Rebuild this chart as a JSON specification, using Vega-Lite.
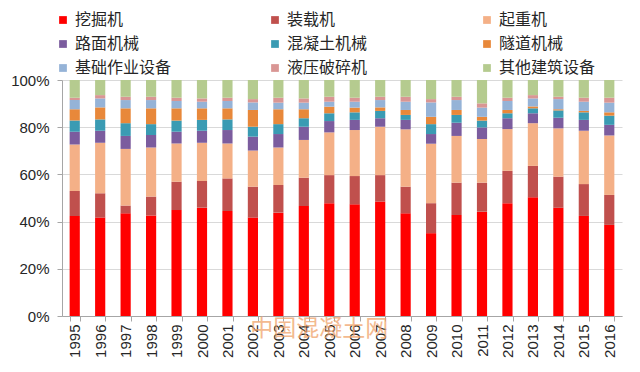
{
  "$schema": "https://vega.github.io/schema/vega-lite/v6.json",
  "width": 560,
  "height": 236,
  "autosize": {"type": "none"},
  "padding": {"left": 62, "top": 80, "right": 18, "bottom": 56},
  "background": "white",
  "config": {"view": {"stroke": null}, "font": "Liberation Sans"},
  "datasets": {
    "order": [
      {"type": "挖掘机", "k": 0}, {"type": "装载机", "k": 1}, {"type": "起重机", "k": 2},
      {"type": "路面机械", "k": 3}, {"type": "混凝土机械", "k": 4}, {"type": "隧道机械", "k": 5},
      {"type": "基础作业设备", "k": 6}, {"type": "液压破碎机", "k": 7}, {"type": "其他建筑设备", "k": 8}
    ]
  },
  "layer": [
    {
      "data": {"values": [
        {"year": "1995", "挖掘机": 42.4, "装载机": 10.6, "起重机": 19.7, "路面机械": 5.4, "混凝土机械": 4.7, "隧道机械": 4.8, "基础作业设备": 3.9, "液压破碎机": 1.0, "其他建筑设备": 7.5},
        {"year": "1996", "挖掘机": 41.7, "装载机": 10.3, "起重机": 21.4, "路面机械": 5.1, "混凝土机械": 4.8, "隧道机械": 5.1, "基础作业设备": 3.8, "液压破碎机": 1.4, "其他建筑设备": 6.4},
        {"year": "1997", "挖掘机": 43.5, "装载机": 3.3, "起重机": 24.0, "路面机械": 5.5, "混凝土机械": 5.4, "隧道机械": 6.3, "基础作业设备": 3.5, "液压破碎机": 1.4, "其他建筑设备": 7.1},
        {"year": "1998", "挖掘机": 42.6, "装载机": 8.0, "起重机": 20.8, "路面机械": 5.3, "混凝土机械": 4.6, "隧道机械": 6.7, "基础作业设备": 3.5, "液压破碎机": 1.4, "其他建筑设备": 7.1},
        {"year": "1999", "挖掘机": 44.9, "装载机": 12.0, "起重机": 16.2, "路面机械": 5.0, "混凝土机械": 4.7, "隧道机械": 5.2, "基础作业设备": 3.1, "液压破碎机": 1.4, "其他建筑设备": 7.5},
        {"year": "2000", "挖掘机": 45.9, "装载机": 11.3, "起重机": 16.2, "路面机械": 5.1, "混凝土机械": 4.6, "隧道机械": 4.9, "基础作业设备": 2.8, "液压破碎机": 1.4, "其他建筑设备": 7.8},
        {"year": "2001", "挖掘机": 44.5, "装载机": 13.8, "起重机": 14.8, "路面机械": 5.7, "混凝土机械": 4.5, "隧道机械": 4.7, "基础作业设备": 3.1, "液压破碎机": 1.4, "其他建筑设备": 7.5},
        {"year": "2002", "挖掘机": 41.7, "装载机": 13.1, "起重机": 15.3, "路面机械": 5.9, "混凝土机械": 4.2, "隧道机械": 7.1, "基础作业设备": 3.2, "液压破碎机": 1.4, "其他建筑设备": 8.1},
        {"year": "2003", "挖掘机": 43.8, "装载机": 11.7, "起重机": 15.9, "路面机械": 5.7, "混凝土机械": 4.2, "隧道机械": 6.3, "基础作业设备": 2.8, "液压破碎机": 2.1, "其他建筑设备": 7.5},
        {"year": "2004", "挖掘机": 46.6, "装载机": 12.0, "起重机": 16.0, "路面机械": 5.6, "混凝土机械": 3.6, "隧道机械": 3.8, "基础作业设备": 2.8, "液压破碎机": 1.8, "其他建筑设备": 7.8},
        {"year": "2005", "挖掘机": 47.8, "装载机": 11.9, "起重机": 18.1, "路面机械": 4.8, "混凝土机械": 3.3, "隧道机械": 2.8, "基础作业设备": 2.1, "液压破碎机": 2.1, "其他建筑设备": 7.1},
        {"year": "2006", "挖掘机": 47.3, "装载机": 12.0, "起重机": 19.5, "路面机械": 4.3, "混凝土机械": 3.2, "隧道机械": 2.0, "基础作业设备": 2.5, "液压破碎机": 1.7, "其他建筑设备": 7.5},
        {"year": "2007", "挖掘机": 48.5, "装载机": 11.2, "起重机": 20.5, "路面机械": 3.6, "混凝土机械": 3.1, "隧道机械": 1.5, "基础作业设备": 3.1, "液压破碎机": 1.4, "其他建筑设备": 7.1},
        {"year": "2008", "挖掘机": 43.5, "装载机": 11.3, "起重机": 24.3, "路面机械": 4.0, "混凝土机械": 2.1, "隧道机械": 2.1, "基础作业设备": 3.5, "液压破碎机": 2.1, "其他建筑设备": 7.1},
        {"year": "2009", "挖掘机": 35.1, "装载机": 12.7, "起重机": 25.2, "路面机械": 4.1, "混凝土机械": 4.2, "隧道机械": 3.1, "基础作业设备": 6.1, "液压破碎机": 1.4, "其他建筑设备": 8.1},
        {"year": "2010", "挖掘机": 42.8, "装载机": 13.7, "起重机": 19.8, "路面机械": 5.6, "混凝土机械": 3.3, "隧道机械": 2.1, "基础作业设备": 4.2, "液压破碎机": 1.4, "其他建筑设备": 7.1},
        {"year": "2011", "挖掘机": 44.2, "装载机": 12.3, "起重机": 18.5, "路面机械": 4.9, "混凝土机械": 2.9, "隧道机械": 1.6, "基础作业设备": 3.9, "液压破碎机": 1.8, "其他建筑设备": 9.9},
        {"year": "2012", "挖掘机": 47.8, "装载机": 13.7, "起重机": 17.7, "路面机械": 4.6, "混凝土机械": 2.1, "隧道机械": 1.4, "基础作业设备": 3.8, "液压破碎机": 1.4, "其他建筑设备": 7.5},
        {"year": "2013", "挖掘机": 50.3, "装载机": 13.3, "起重机": 18.1, "路面机械": 4.2, "混凝土机械": 2.1, "隧道机械": 0.8, "基础作业设备": 3.4, "液压破碎机": 1.4, "其他建筑设备": 6.4},
        {"year": "2014", "挖掘机": 45.9, "装载机": 13.2, "起重机": 20.5, "路面机械": 4.5, "混凝土机械": 3.1, "隧道机械": 0.5, "基础作业设备": 4.3, "液压破碎机": 1.0, "其他建筑设备": 7.1},
        {"year": "2015", "挖掘机": 42.4, "装载机": 13.5, "起重机": 22.6, "路面机械": 4.6, "混凝土机械": 3.2, "隧道机械": 0.6, "基础作业设备": 3.9, "液压破碎机": 1.7, "其他建筑设备": 7.5},
        {"year": "2016", "挖掘机": 38.6, "装载机": 12.7, "起重机": 25.2, "路面机械": 4.5, "混凝土机械": 3.9, "隧道机械": 1.4, "基础作业设备": 4.1, "液压破碎机": 2.1, "其他建筑设备": 7.5}
      ]},
      "transform": [
        {"fold": ["挖掘机", "装载机", "起重机", "路面机械", "混凝土机械", "隧道机械", "基础作业设备", "液压破碎机", "其他建筑设备"], "as": ["type", "value"]},
        {"lookup": "type", "from": {"data": {"name": "order"}, "key": "type", "fields": ["k"]}}
      ],
      "mark": {"type": "bar"},
      "encoding": {
        "x": {
          "field": "year", "type": "ordinal",
          "scale": {"paddingInner": 0.6, "paddingOuter": 0.3},
          "axis": {"title": null, "labelAngle": -90, "labelAlign": "right", "labelBaseline": "middle", "labelFontSize": 15, "labelColor": "#262626", "tickBand": "extent", "tickSize": 5, "tickColor": "#A6A6A6", "domainColor": "#A6A6A6", "labelPadding": 3, "grid": false}
        },
        "y": {
          "field": "value", "type": "quantitative", "stack": "normalize",
          "scale": {"domain": [0, 1]},
          "axis": {"title": null, "format": ".0%", "values": [0, 0.2, 0.4, 0.6, 0.8, 1], "grid": true, "gridColor": "#D9D9D9", "tickSize": 5, "tickColor": "#A6A6A6", "domainColor": "#A6A6A6", "labelFontSize": 15, "labelPadding": 8, "labelColor": "#262626"}
        },
        "order": {"field": "k", "type": "quantitative", "sort": "ascending"},
        "color": {
          "field": "type", "type": "nominal",
          "sort": ["挖掘机", "装载机", "起重机", "路面机械", "混凝土机械", "隧道机械", "基础作业设备", "液压破碎机", "其他建筑设备"],
          "scale": {
            "domain": ["挖掘机", "装载机", "起重机", "路面机械", "混凝土机械", "隧道机械", "基础作业设备", "液压破碎机", "其他建筑设备"],
            "range": ["#FF0000", "#C0504D", "#F4B087", "#7B5C9E", "#3A9BB3", "#E8883A", "#95B3D7", "#D99694", "#B5CB8F"]
          },
          "legend": {"title": null, "orient": "none", "legendX": -7, "legendY": -68, "direction": "horizontal", "columns": 3, "gridAlign": "all", "columnPadding": 95, "rowPadding": 8, "symbolType": "square", "symbolSize": 60, "symbolStrokeWidth": 0, "labelFont": "Noto Sans CJK SC", "labelFontSize": 16, "labelColor": "#262626", "labelOffset": 4, "labelLimit": 200}
        }
      }
    },
    {
      "data": {"values": [{"t": "中国混凝土网"}]},
      "mark": {"type": "text", "font": "Noto Sans CJK SC", "fontSize": 23, "color": "#F0A36A", "opacity": 0.75, "baseline": "middle", "align": "center", "dx": -10},
      "encoding": {
        "text": {"field": "t"},
        "x": {"datum": "2005"},
        "y": {"datum": -0.055}
      }
    }
  ]
}
